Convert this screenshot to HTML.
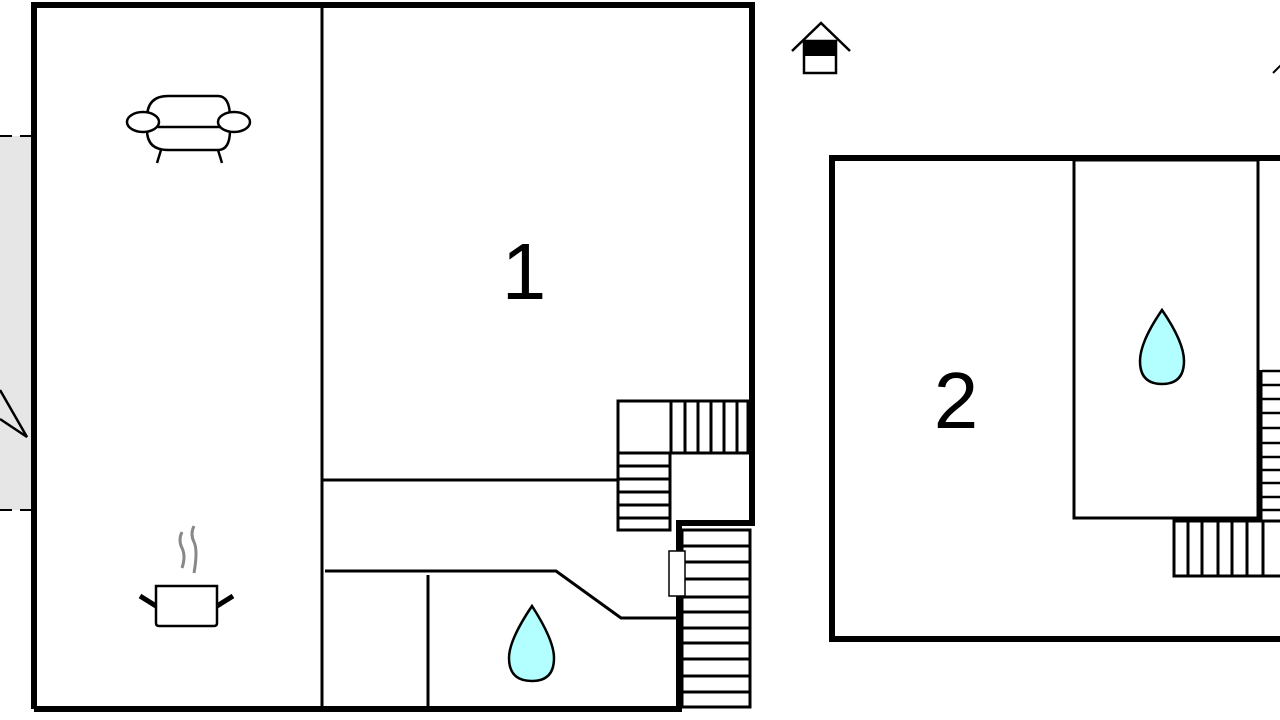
<!DOCTYPE html>
<html><head><meta charset="utf-8"><style>
html,body{margin:0;padding:0;background:#fff;width:1280px;height:720px;overflow:hidden}
svg{display:block}
text{font-family:"Liberation Sans",Arial,sans-serif}
</style></head><body>
<svg width="1280" height="720" viewBox="0 0 1280 720" xmlns="http://www.w3.org/2000/svg">
<rect width="1280" height="720" fill="#fff"/>
<rect x="0" y="136" width="31" height="374" fill="#e6e6e6"/>
<g stroke="#000" stroke-width="2" stroke-dasharray="12,8">
<line x1="0" y1="136" x2="31" y2="136"/><line x1="0" y1="510" x2="31" y2="510"/></g>
<polyline points="0,390 27,437 0,419" fill="none" stroke="#000" stroke-width="2.5"/>

<g fill="none" stroke="#000" stroke-linejoin="miter">
<polyline points="34,709 34,5 752,5 752,523 679,523 679,709 34,709" stroke-width="6"/>
<line x1="322" y1="5" x2="322" y2="709" stroke-width="3"/>
<line x1="322" y1="480" x2="618" y2="480" stroke-width="3"/>
<polyline points="325,571 556,571 621,618 679,618" stroke-width="3"/>
<line x1="428" y1="575" x2="428" y2="709" stroke-width="3"/>
</g>
<g fill="none" stroke="#000" stroke-width="3">
<rect x="618" y="401" width="130" height="52"/>
<line x1="671" y1="401" x2="671" y2="453"/><line x1="685" y1="401" x2="685" y2="453"/>
<line x1="698" y1="401" x2="698" y2="453"/><line x1="711" y1="401" x2="711" y2="453"/>
<line x1="724" y1="401" x2="724" y2="453"/><line x1="737" y1="401" x2="737" y2="453"/>
<rect x="618" y="453" width="52" height="77"/>
<line x1="618" y1="466" x2="670" y2="466"/><line x1="618" y1="479" x2="670" y2="479"/>
<line x1="618" y1="492" x2="670" y2="492"/><line x1="618" y1="505" x2="670" y2="505"/>
<line x1="618" y1="518" x2="670" y2="518"/>
<rect x="682" y="530" width="68" height="177"/>
<line x1="682" y1="546" x2="750" y2="546"/><line x1="682" y1="562" x2="750" y2="562"/>
<line x1="682" y1="579" x2="750" y2="579"/><line x1="682" y1="597" x2="750" y2="597"/>
<line x1="682" y1="612" x2="750" y2="612"/><line x1="682" y1="628" x2="750" y2="628"/>
<line x1="682" y1="643" x2="750" y2="643"/><line x1="682" y1="659" x2="750" y2="659"/>
<line x1="682" y1="676" x2="750" y2="676"/><line x1="682" y1="692" x2="750" y2="692"/>
</g>
<rect x="669" y="551" width="16" height="45" fill="#fff" stroke="#000" stroke-width="1.5"/>

<g fill="none" stroke="#000" stroke-width="2.5">
<path d="M147,118 Q147,96 168,96 L218,96 Q230,96 230,118"/>
<path d="M147,130 Q147,150 168,150 L218,150 Q230,150 230,130"/>
<line x1="158" y1="127" x2="220" y2="127"/>
<ellipse cx="143" cy="122" rx="16" ry="10" fill="#fff"/>
<ellipse cx="234" cy="122" rx="16" ry="10" fill="#fff"/>
<line x1="161" y1="150" x2="157" y2="163"/><line x1="218" y1="150" x2="222" y2="163"/>
</g>
<g fill="none">
<path d="M182,532 Q178,540 182,548 Q186,556 182,568" stroke="#888" stroke-width="3"/>
<path d="M194,526 Q190,534 194,542 Q198,550 194,573" stroke="#888" stroke-width="3"/>
<path d="M156,586 L217,586 L217,623 Q217,626 214,626 L159,626 Q156,626 156,623 Z" stroke="#000" stroke-width="2.5"/>
<line x1="140" y1="596" x2="156" y2="606" stroke="#000" stroke-width="5"/>
<line x1="233" y1="596" x2="217" y2="606" stroke="#000" stroke-width="5"/>
</g>
<path d="M532,606 Q509,640 509,658 Q509,681 532,681 Q554,681 554,658 Q554,640 532,606 Z" fill="#b3ffff" stroke="#000" stroke-width="2.5"/>
<path d="M1162,310 Q1140,342 1140,361 Q1140,384 1162,384 Q1184,384 1184,361 Q1184,342 1162,310 Z" fill="#b3ffff" stroke="#000" stroke-width="2.5"/>

<text x="524" y="299" font-size="80" text-anchor="middle">1</text>
<text x="956" y="428" font-size="80" text-anchor="middle">2</text>

<polyline points="792,51 821,23 850,51" fill="none" stroke="#000" stroke-width="2.5"/>
<rect x="804" y="41" width="32" height="32" fill="#fff" stroke="#000" stroke-width="2.5"/>
<rect x="804" y="41" width="32" height="15" fill="#000"/>
<line x1="1273" y1="73" x2="1281" y2="65" stroke="#000" stroke-width="2"/>

<g fill="none" stroke="#000">
<rect x="832" y="158" width="460" height="481" stroke-width="6"/>
<rect x="1074" y="160" width="184" height="358" stroke-width="3"/>
<line x1="1261" y1="370" x2="1261" y2="521" stroke-width="3"/>
<g stroke-width="2.5">
<line x1="1262" y1="371" x2="1280" y2="371"/><line x1="1262" y1="385" x2="1280" y2="385"/>
<line x1="1262" y1="399" x2="1280" y2="399"/><line x1="1262" y1="413" x2="1280" y2="413"/>
<line x1="1262" y1="428" x2="1280" y2="428"/><line x1="1262" y1="443" x2="1280" y2="443"/>
<line x1="1262" y1="457" x2="1280" y2="457"/><line x1="1262" y1="470" x2="1280" y2="470"/>
<line x1="1262" y1="483" x2="1280" y2="483"/><line x1="1262" y1="497" x2="1280" y2="497"/>
<line x1="1262" y1="510" x2="1280" y2="510"/>
</g>
<g stroke-width="3">
<polyline points="1281,521 1174,521 1174,576 1281,576"/>
<line x1="1188" y1="521" x2="1188" y2="576"/><line x1="1202" y1="521" x2="1202" y2="576"/>
<line x1="1218" y1="521" x2="1218" y2="576"/><line x1="1232" y1="521" x2="1232" y2="576"/>
<line x1="1247" y1="521" x2="1247" y2="576"/><line x1="1263" y1="521" x2="1263" y2="576"/>
</g>
</g>
</svg>
</body></html>
